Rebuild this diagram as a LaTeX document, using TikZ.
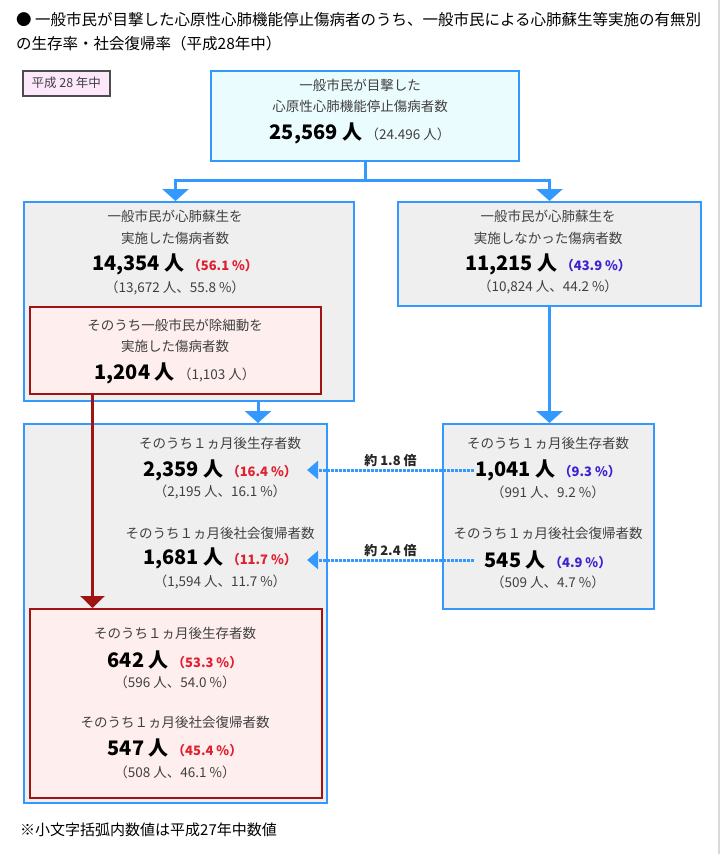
\documentclass[tikz,border=0pt]{standalone}
\usepackage{fontspec}
\setmainfont{Noto Sans CJK JP}
\usetikzlibrary{arrows.meta}
\definecolor{boxblue}{RGB}{51,153,255}
\definecolor{topfill}{RGB}{235,252,255}
\definecolor{boxgray}{RGB}{239,239,239}
\definecolor{redline}{RGB}{160,20,20}
\definecolor{redfill}{RGB}{255,238,238}
\definecolor{pctred}{RGB}{224,32,48}
\definecolor{pctblue}{RGB}{64,32,208}
\definecolor{txtgray}{RGB}{64,64,64}
\definecolor{lblfill}{RGB}{252,232,250}
\newcommand{\redpct}[1]{{\fontsize{13}{15}\selectfont\bfseries\color{pctred}（#1）}}
\newcommand{\bluepct}[1]{{\fontsize{13}{15}\selectfont\bfseries\color{pctblue}（#1）}}
\newcommand{\prevyr}[1]{{\fontsize{13.5}{15}\selectfont\mdseries\color{txtgray}（#1）}}
\begin{document}
\begin{tikzpicture}[
  x=1pt,y=-1pt,
  box/.style={draw=boxblue,line width=2pt,fill=boxgray,inner sep=0,anchor=north west},
  redbox/.style={draw=redline,line width=2pt,fill=redfill,inner sep=0,anchor=north west},
  lbl/.style={inner sep=0,font=\fontsize{13.5}{16}\selectfont,text=txtgray},
  big/.style={inner sep=0,font=\fontsize{20}{24}\selectfont\bfseries},
  sub/.style={inner sep=0,font=\fontsize{13.5}{15}\selectfont,text=txtgray},
  barr/.style={draw=boxblue,line width=3pt,-{Triangle[width=26pt,length=12pt]}},
  bline/.style={draw=boxblue,line width=3pt},
  rarr/.style={draw=redline,line width=2.5pt,-{Triangle[width=24pt,length=12pt]}},
  darr/.style={draw=boxblue,line width=3pt,dash pattern=on 2.5pt off 1.5pt,-{Triangle[width=18pt,length=11pt]}},
  ratio/.style={inner sep=0,font=\fontsize{13}{15}\selectfont\bfseries,text=black!85}
  ]
  \useasboundingbox (0,0) rectangle (724,854);
  \draw[black!15,line width=1.5pt] (719,0) -- (719,854);
  %
  % Title
  %
  \node(title1)[anchor=west,inner sep=0,font=\fontsize{15.5}{18}\selectfont] at (16,20)
    {● 一般市民が目撃した心原性心肺機能停止傷病者のうち、一般市民による心肺蘇生等実施の有無別};
  \node(title2)[anchor=west,inner sep=0,font=\fontsize{15.5}{18}\selectfont] at (16,44)
    {の生存率・社会復帰率（平成28年中）};
  \node(year)[draw=black!70,line width=1.5pt,fill=lblfill,anchor=north west,minimum width=87,minimum height=25,
    font=\fontsize{12.5}{14}\selectfont,text=txtgray] at (22,70) {平成 28 年中};
  %
  % Boxes
  %
  \node(top)     [box,fill=topfill,minimum width=308,minimum height=90] at (210,70) {};
  \node(left)    [box,minimum width=330,minimum height=199] at (23,201) {};
  \node(leftred) [redbox,minimum width=291,minimum height=87] at (29,306) {};
  \node(right)   [box,minimum width=303,minimum height=104] at (397,201) {};
  \node(lowleft) [box,minimum width=303,minimum height=379] at (23,423) {};
  \node(lowred)  [redbox,minimum width=292,minimum height=189] at (29,608) {};
  \node(lowright)[box,minimum width=211,minimum height=185] at (442,423) {};
  %
  % Texts
  %
  % all witnessed
  \node(topa)[lbl] at (360,85) {一般市民が目撃した};
  \node(topb)[lbl] at (360,106) {心原性心肺機能停止傷病者数};
  \node(n25569)[big] at (360,133) {25,569 人\,\prevyr{24.496 人}};
  % with CPR
  \node(lefta)[lbl] at (175,216) {一般市民が心肺蘇生を};
  \node(leftb)[lbl] at (175,238) {実施した傷病者数};
  \node(n14354)[big] at (175,264) {14,354 人\,\redpct{56.1 \%}};
  \node(leftc)[sub] at (175,288) {（13,672 人、55.8 \%）};
  % with AED
  \node(reda)[lbl] at (175,325) {そのうち一般市民が除細動を};
  \node(redb)[lbl] at (175,346) {実施した傷病者数};
  \node(n1204)[big] at (175,373) {1,204 人\,\prevyr{1,103 人}};
  % without CPR
  \node(righta)[lbl] at (548,216) {一般市民が心肺蘇生を};
  \node(rightb)[lbl] at (548,238) {実施しなかった傷病者数};
  \node(n11215)[big] at (548,264) {11,215 人\,\bluepct{43.9 \%}};
  \node(rightc)[sub] at (548,287) {（10,824 人、44.2 \%）};
  % one month, with CPR
  \node(lla)[lbl] at (220,443) {そのうち１ヵ月後生存者数};
  \node(n2359)[big] at (220,470) {2,359 人\,\redpct{16.4 \%}};
  \node(llb)[sub] at (220,492) {（2,195 人、16.1 \%）};
  \node(llc)[lbl] at (220,533) {そのうち１ヵ月後社会復帰者数};
  \node(n1681)[big] at (220,558) {1,681 人\,\redpct{11.7 \%}};
  \node(lld)[sub] at (220,582) {（1,594 人、11.7 \%）};
  % one month, without CPR
  \node(lra)[lbl] at (548,443) {そのうち１ヵ月後生存者数};
  \node(n1041)[big] at (548,470) {1,041 人\,\bluepct{9.3 \%}};
  \node(lrb)[sub] at (548,492) {（991 人、9.2 \%）};
  \node(lrc)[lbl] at (548,533) {そのうち１ヵ月後社会復帰者数};
  \node(n545)[big] at (548,560) {545 人\,\bluepct{4.9 \%}};
  \node(lrd)[sub] at (548,582) {（509 人、4.7 \%）};
  % one month, with AED
  \node(lowa)[lbl] at (175,633) {そのうち１ヵ月後生存者数};
  \node(n642)[big] at (175,660) {642 人\,\redpct{53.3 \%}};
  \node(lowb)[sub] at (175,682) {（596 人、54.0 \%）};
  \node(lowc)[lbl] at (175,722) {そのうち１ヵ月後社会復帰者数};
  \node(n547)[big] at (175,748) {547 人\,\redpct{45.4 \%}};
  \node(lowd)[sub] at (175,772) {（508 人、46.1 \%）};
  % note
  \node(note)[anchor=west,inner sep=0,font=\fontsize{15}{18}\selectfont] at (20,830)
    {※小文字括弧内数値は平成27年中数値};
  %
  % Arrows
  %
  % top -> left, right
  \draw[bline] (top.south) -- ++(0,18) coordinate (split);
  \draw[barr] (split) -| (left.north -| leftred.north);
  \draw[barr] (split) -| (right.north);
  % left -> lowleft
  \draw[barr] ([xshift=69]left.south) -- ([xshift=69]left.south |- lowleft.north);
  % right -> lowright
  \draw[barr] (right.south) -- (right.south |- lowright.north);
  % leftred -> lowred
  \draw[rarr] ([xshift=-83]leftred.south) -- ([xshift=-83]leftred.south |- lowred.north);
  % lowright -> lowleft
  \draw[darr] ([xshift=-1]n1041.west) -- node[ratio,above=2pt]{約 1.8 倍} ([xshift=10]n2359.east);
  \draw[darr] ([xshift=-1]n1041.west |- n545) -- node[ratio,above=2pt]{約 2.4 倍} ([xshift=10]n2359.east |- n545);
\end{tikzpicture}
\end{document}
